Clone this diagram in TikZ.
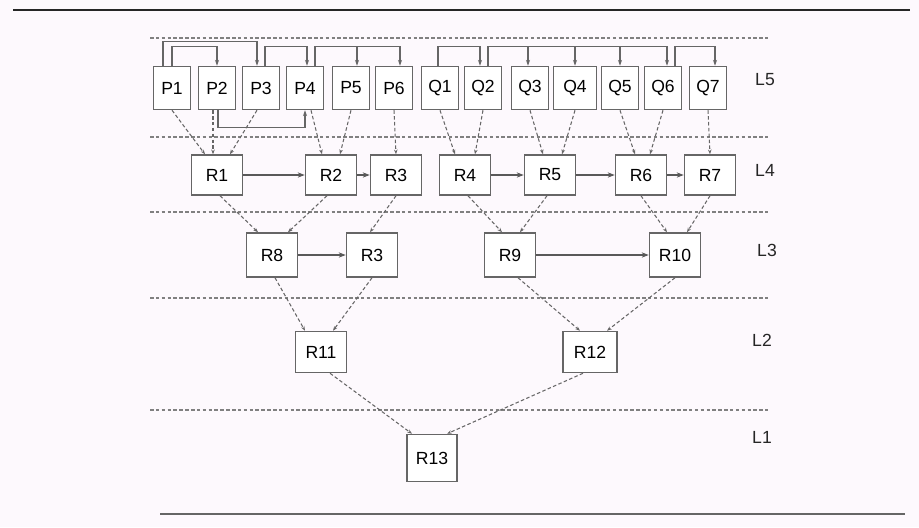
\documentclass[tikz,border=0pt]{standalone}
\usepackage{fontspec}
\setsansfont{Liberation Sans}
\usetikzlibrary{arrows.meta,calc}
\definecolor{paper}{HTML}{FDF9FD}

\begin{document}
\begin{tikzpicture}[x=0.03cm,y=-0.03cm,
    box/.style={draw=black!60,line width=1.3pt,fill=white,inner sep=0pt,
        font=\sffamily\fontsize{15}{17}\selectfont,text=black},
    pbox/.style={box,minimum width=1.11cm,minimum height=1.29cm},
    rbox/.style={box,minimum width=1.53cm,minimum height=1.2cm},
    link/.style={black!60,densely dashed,line width=0.9pt,-{Stealth[length=4pt,width=3pt]}},
    flow/.style={black!65,line width=1.1pt,-{Stealth[length=6pt,width=4.5pt]}},
    bus/.style={black!60,line width=1pt,-{Stealth[length=5pt,width=3.5pt]}},
    level/.style={black!50,line width=1.2pt,dash pattern=on 3pt off 2pt},
    lab/.style={font=\sffamily\fontsize{15}{17}\selectfont,text=black!85}]
    \fill[paper] (0,0) rectangle (919,527);
    \useasboundingbox (0,0) rectangle (919,527);
    % rules of the scanned page
    \draw[line width=2pt,black!85] (13,10) -- (910,10);
    \draw[line width=1.5pt,black!60] (160,514) -- (905,514);
    % level separators
    \foreach \y in {38,137,212,298,410}
        \draw[level] (150,\y) -- (768,\y);
    % level L5
    \foreach \n/\x in {P1/172,P2/217,P3/261,P4/305,P5/351,P6/394,Q1/440,Q2/483,Q3/530,Q5/620,Q6/663,Q7/708}
        \node[pbox] (\n) at (\x,88) {\n};
    \node[pbox,minimum width=1.29cm] (Q4) at (575,88) {Q4};
    % level L4
    \foreach \n/\x in {R1/217,R2/331,R3/396,R4/465,R5/550,R6/641,R7/710}
        \node[rbox] (\n) at (\x,175) {\n};
    % level L3
    \node[rbox,minimum height=1.32cm] (R8) at (272,255) {R8};
    \node[rbox,minimum height=1.32cm] (R3b) at (372,255) {R3};
    \node[rbox,minimum height=1.32cm] (R9) at (510,255) {R9};
    \node[rbox,minimum height=1.32cm] (R10) at (675,255) {R10};
    % levels L2 and L1
    \node[rbox,minimum height=1.23cm] (R11) at (321,352) {R11};
    \node[rbox,minimum width=1.62cm,minimum height=1.23cm] (R12) at (590,352) {R12};
    \node[rbox,minimum width=1.5cm,minimum height=1.41cm] (R13) at (432,458) {R13};
    % level names
    \node[lab] (L5) at (765,80) {L5};
    \node[lab] (L4) at (765,170) {L4};
    \node[lab] (L3) at (767,250) {L3};
    \node[lab] (L2) at (762,340) {L2};
    \node[lab] (L1) at (762,437) {L1};
    % brackets over L5
    \draw[bus] ($(P1.north)+(-9,0)$) -- ++(0,-24) -| ($(P3.north)+(-4,0)$);
    \draw[bus] (P1.north) -- ++(0,-19) -| (P2.north);
    \draw[bus] ($(P3.north)+(4,0)$) -- ++(0,-19) -| ($(P4.north)+(2,0)$);
    \draw[bus] ($(P4.north)+(10,0)$) -- ++(0,-19) -| ($(P6.north)+(6,0)$);
    \draw[bus] ($(P5.north)+(6,-19)$) -- ($(P5.north)+(6,0)$);
    \draw[bus] ($(Q1.north)+(-2,0)$) -- ++(0,-19) -| ($(Q2.north)+(-3,0)$);
    \draw[bus] ($(Q2.north)+(5,0)$) -- ++(0,-19) -| ($(Q6.north)+(4,0)$);
    \foreach \t/\d in {Q3/-2,Q4/0,Q5/0}
        \draw[bus] ($(\t.north)+(\d,-19)$) -- ($(\t.north)+(\d,0)$);
    \draw[bus] ($(Q6.north)+(12,0)$) -- ++(0,-19) -| ($(Q7.north)+(7,0)$);
    \draw[bus] ($(P2.south)+(1,0)$) -- ++(0,17) -| (P4.south);
    % L5 to L4
    \draw[link] (P1.south) -- ($(R1.north)+(-12,0)$);
    \draw[link] ($(P2.south)+(-4,0)$) -- ($(R1.north)+(-4,0)$);
    \draw[link] ($(P3.south)+(-4,0)$) -- ($(R1.north)+(13,0)$);
    \draw[link] ($(P4.south)+(6,0)$) -- ($(R2.north)+(-9,0)$);
    \draw[link] (P5.south) -- ($(R2.north)+(9,0)$);
    \draw[link] (P6.south) -- (R3.north);
    \draw[link] (Q1.south) -- ($(R4.north)+(-10,0)$);
    \draw[link] (Q2.south) -- ($(R4.north)+(10,0)$);
    \draw[link] (Q3.south) -- ($(R5.north)+(-7,0)$);
    \draw[link] (Q4.south) -- ($(R5.north)+(12,0)$);
    \draw[link] (Q5.south) -- ($(R6.north)+(-6,0)$);
    \draw[link] (Q6.south) -- ($(R6.north)+(9,0)$);
    \draw[link] (Q7.south) -- (R7.north);
    % L4 to L3
    \draw[link] ($(R1.south)+(3,0)$) -- ($(R8.north)+(-14,0)$);
    \draw[link] ($(R2.south)+(-4,0)$) -- ($(R8.north)+(16,0)$);
    \draw[link] (R3.south) -- ($(R3b.north)+(-2,0)$);
    \draw[link] ($(R4.south)+(3,0)$) -- ($(R9.north)+(-8,0)$);
    \draw[link] ($(R5.south)+(-3,0)$) -- ($(R9.north)+(10,0)$);
    \draw[link] (R6.south) -- ($(R10.north)+(-8,0)$);
    \draw[link] (R7.south) -- ($(R10.north)+(12,0)$);
    % L3 to L2
    \draw[link] ($(R8.south)+(3,0)$) -- ($(R11.north)+(-16,0)$);
    \draw[link] (R3b.south) -- ($(R11.north)+(12,0)$);
    \draw[link] ($(R9.south)+(8,0)$) -- ($(R12.north)+(-10,0)$);
    \draw[link] (R10.south) -- ($(R12.north)+(17,0)$);
    % L2 to L1
    \draw[link] ($(R11.south)+(9,0)$) -- ($(R13.north)+(-20,0)$);
    \draw[link] ($(R12.south)+(-7,0)$) -- ($(R13.north)+(15,0)$);
    % arrows inside a level
    \draw[flow] (R1) -- (R2);
    \draw[flow] (R2) -- (R3);
    \draw[flow] (R4) -- (R5);
    \draw[flow] (R5) -- (R6);
    \draw[flow] (R6) -- (R7);
    \draw[flow] (R8) -- (R3b);
    \draw[flow] (R9) -- (R10);
\end{tikzpicture}
\end{document}
